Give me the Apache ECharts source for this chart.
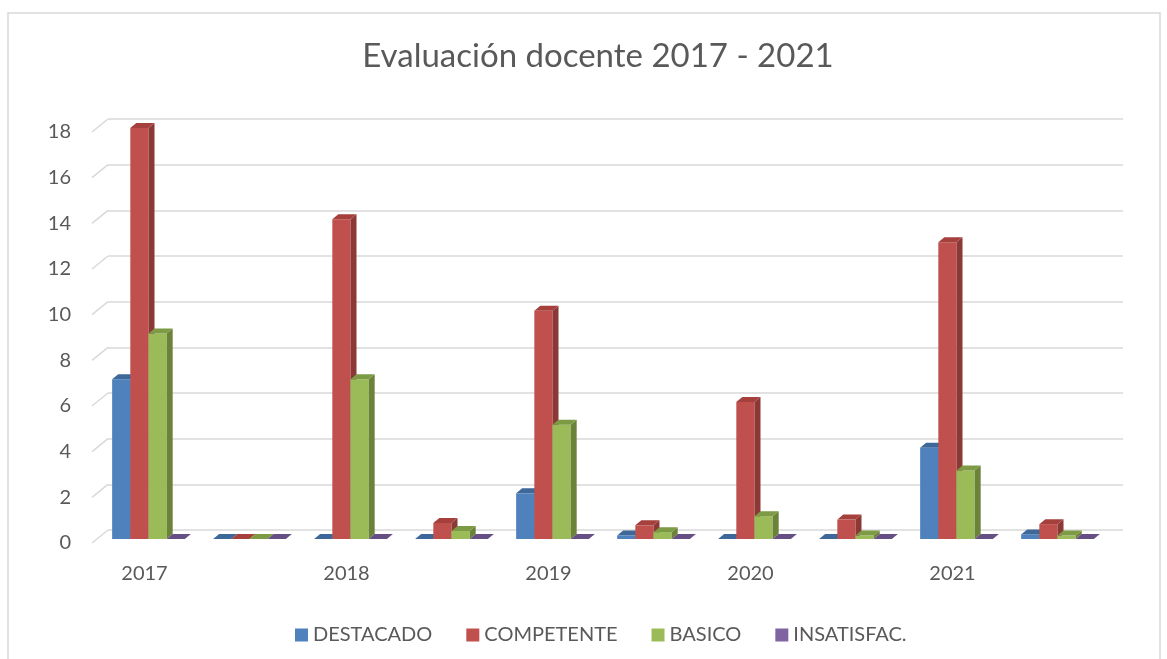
<!DOCTYPE html>
<html>
<head>
<meta charset="utf-8">
<script src="https://cdn.jsdelivr.net/npm/echarts@6/dist/echarts.min.js"></script>
<style>
  html, body { margin: 0; padding: 0; background: #fff; }
  #chart { width: 1167px; height: 659px; }
</style>
</head>
<body>
<div id="chart"></div>
<script>
// categorias (las vacias son las columnas intermedias sin rotulo)
var categories = ['2017', '', '2018', '', '2019', '', '2020', '', '2021', ''];
var destacado = [7, 0, 0, 0, 2, 0.15, 0, 0, 4, 0.2];
var competente = [18, 0, 14, 0.7, 10, 0.6, 6, 0.85, 13, 0.65];
var basico = [9, 0, 7, 0.35, 5, 0.3, 1, 0.15, 3, 0.15];
var insatisfac = [0, 0, 0, 0, 0, 0, 0, 0, 0, 0];
var yTicks = [0, 2, 4, 6, 8, 10, 12, 14, 16, 18];

var seriesNames = ['DESTACADO', 'COMPETENTE', 'BASICO', 'INSATISFAC.'];
var seriesValues = [destacado, competente, basico, insatisfac];
// [frente, lado, tapa]
var palette = [
  ['#4f81bd', '#385d8a', '#3d6899'],
  ['#c0504d', '#8c3836', '#a5403d'],
  ['#9bbb59', '#6b8239', '#7d9a44'],
  ['#8064a2', '#5c4776', '#664f84']
];

var textColor = '#595959';
var fontFamily = 'Lato, "Open Sans", sans-serif';

// profundidad de las barras
var DX = 6, DY = -5;
var SHIFT_X = 4, SHIFT_Y = -4;

function bar3d(idx) {
  var cols = palette[idx];
  return function (params, api) {
    var cat = api.value(0);
    var val = api.value(1);
    var top = api.coord([cat, val]);
    var base = api.coord([cat, 0]);
    var band = api.size([1, 0])[0];
    var w = band * 0.18;
    var x0 = top[0] - 2 * w + idx * w + SHIFT_X;
    var x1 = x0 + w;
    var yT = top[1] + SHIFT_Y;
    var yB = base[1] + SHIFT_Y;
    var children = [];
    if (yB - yT > 0.5) {
      children.push({
        type: 'rect',
        shape: { x: x0, y: yT, width: w, height: yB - yT },
        style: { fill: cols[0] }
      });
      children.push({
        type: 'polygon',
        shape: { points: [[x1, yT], [x1 + DX, yT + DY], [x1 + DX, yB + DY], [x1, yB]] },
        style: { fill: cols[1] }
      });
    }
    children.push({
      type: 'polygon',
      shape: { points: [[x0, yT], [x0 + DX, yT + DY], [x1 + DX, yT + DY], [x1, yT]] },
      style: { fill: cols[2] }
    });
    return { type: 'group', children: children };
  };
}

var chart = echarts.init(document.getElementById('chart'));

var series = seriesNames.map(function (name, i) {
  return {
    name: name,
    type: 'custom',
    xAxisIndex: 0,
    yAxisIndex: 0,
    itemStyle: { color: palette[i][0] },
    renderItem: bar3d(i),
    data: seriesValues[i].map(function (v, k) { return [k, v]; }),
    z: 5 + i
  };
});

// lineas diagonales de la pared izquierda
series.push({
  type: 'custom',
  xAxisIndex: 1,
  yAxisIndex: 1,
  silent: true,
  renderItem: function (params, api) {
    var p = api.coord([0, api.value(0)]);
    return {
      type: 'line',
      shape: { x1: p[0] - 16, y1: p[1] + 13, x2: p[0], y2: p[1] },
      style: { stroke: '#d9d9d9', lineWidth: 1.5 }
    };
  },
  data: yTicks.map(function (t) { return [t]; }),
  z: 1
});

chart.setOption({
  animation: false,
  title: {
    text: 'Evaluación docente 2017 - 2021',
    left: 593,
    textAlign: 'center',
    top: 35,
    textStyle: { color: textColor, fontSize: 33, fontWeight: 'normal', fontFamily: fontFamily }
  },
  legend: {
    data: seriesNames,
    left: 290,
    top: 620,
    icon: 'rect',
    itemWidth: 13,
    itemHeight: 13,
    itemGap: 34,
    textStyle: { color: textColor, fontSize: 20, fontFamily: fontFamily }
  },
  graphic: [{
    type: 'rect',
    shape: { x: 8, y: 13, width: 1152, height: 700 },
    style: { fill: 'none', stroke: '#d9d9d9', lineWidth: 1.5 },
    silent: true,
    z: -1
  }],
  grid: [
    { left: 94, right: 63, top: 132, bottom: 116 },   // plano frontal
    { left: 108, right: 44, top: 119, bottom: 129 }   // pared del fondo
  ],
  xAxis: [
    {
      type: 'category',
      gridIndex: 0,
      data: categories,
      axisLine: { show: false },
      axisTick: { show: false },
      axisLabel: { color: textColor, fontSize: 20, fontFamily: fontFamily, margin: 21, interval: 0 }
    },
    { type: 'value', gridIndex: 1, min: 0, max: 1, show: false }
  ],
  yAxis: [
    {
      type: 'value',
      gridIndex: 0,
      min: 0,
      max: 18,
      interval: 2,
      axisLine: { show: false },
      axisTick: { show: false },
      splitLine: { show: false },
      axisLabel: { color: textColor, fontSize: 20, fontFamily: fontFamily, margin: 23 }
    },
    {
      type: 'value',
      gridIndex: 1,
      min: 0,
      max: 18,
      interval: 2,
      axisLine: { show: false },
      axisTick: { show: false },
      axisLabel: { show: false },
      splitLine: { lineStyle: { color: '#d9d9d9', width: 1.5 } }
    }
  ],
  series: series
});
</script>
</body>
</html>
